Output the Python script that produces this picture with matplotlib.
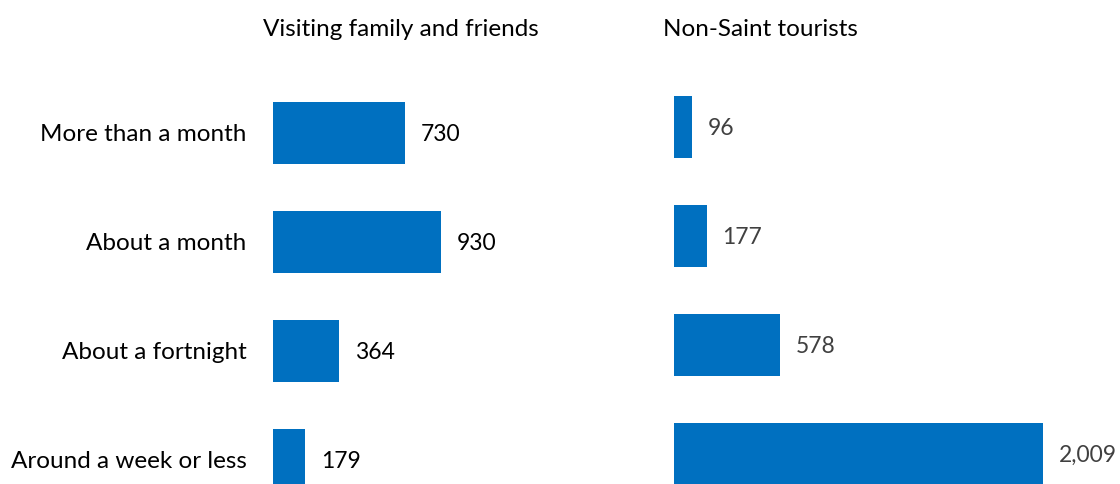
import matplotlib.pyplot as plt

plt.rcParams['font.family'] = ['Lato', 'DejaVu Sans']

categories = ["More than a month", "About a month", "About a fortnight", "Around a week or less"]
vfr_nights = [730, 930, 364, 179]
tourist_nights = [96, 177, 578, 2009]

bar_color = "#0070C0"
W, H = 1120, 484
fs = 17.5

fig = plt.figure(figsize=(W / 100, H / 100), dpi=100)

def px_axes(x0, top, width, height):
    return fig.add_axes([x0 / W, (H - top - height) / H, width / W, height / H])

# left panel: 1000 units ~ 181 px, rows 109 px apart
ax1 = px_axes(273, 78.5, 217, 436)
ax1.set_xlim(0, 1200)
# right panel: 1000 units ~ 183.5 px
ax2 = px_axes(674, 72.5, 404, 436)
ax2.set_xlim(0, 2200)

y = list(range(len(categories)))
for ax, vals, col in [(ax1, vfr_nights, "black"), (ax2, tourist_nights, "#404040")]:
    ax.barh(y, vals, height=0.57, color=bar_color)
    ax.set_ylim(3.5, -0.5)
    for yi, v in zip(y, vals):
        ax.annotate(f"{v:,}", (v, yi + 0.01), xytext=(11.5, 0), textcoords="offset points",
                    va="center", ha="left", fontsize=16.5, color=col, annotation_clip=False)
    ax.set_xticks([])
    ax.set_yticks([])
    for s in ax.spines.values():
        s.set_visible(False)

for yi, c in zip(y, categories):
    ax1.annotate(c, (0, yi + 0.01), xytext=(-19, 0), textcoords="offset points",
                 va="center", ha="right", fontsize=fs, color="black", annotation_clip=False)

fig.text(401 / W, 1 - 29 / H, "Visiting family and friends", ha="center", va="center", fontsize=fs)
fig.text(760 / W, 1 - 29 / H, "Non-Saint tourists", ha="center", va="center", fontsize=fs)

fig.savefig("out.png", dpi=100)
